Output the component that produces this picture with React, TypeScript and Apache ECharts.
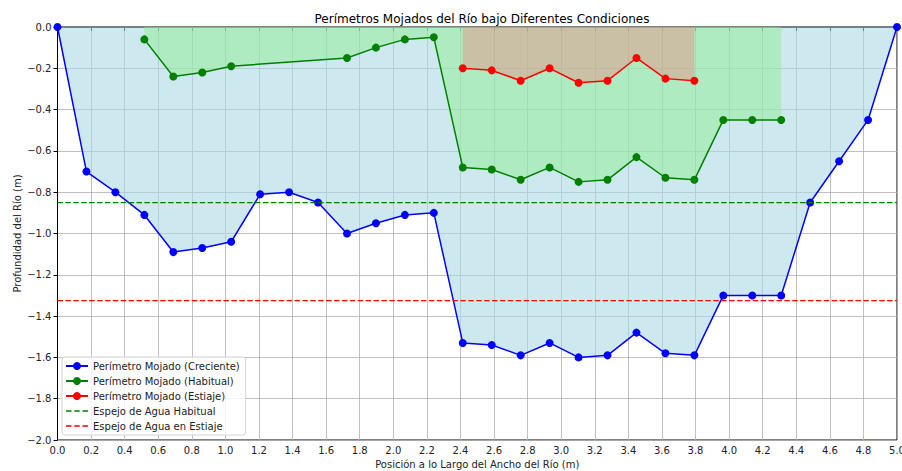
import React, { useEffect, useRef } from "react";
import * as echarts from "echarts";

const xPositions: number[] = Array.from({ length: 30 }, (_, i) => (i * 5) / 29);

const creciente: number[] = [
  0, -0.7, -0.8, -0.91, -1.09, -1.07, -1.04, -0.81, -0.8, -0.85,
  -1.0, -0.95, -0.91, -0.9, -1.53, -1.54, -1.59, -1.53, -1.6, -1.59,
  -1.48, -1.58, -1.59, -1.3, -1.3, -1.3, -0.85, -0.65, -0.45, 0,
];

const habitualIdx: number[] = [3, 4, 5, 6, 10, 11, 12, 13, 14, 15, 16, 17, 18, 19, 20, 21, 22, 23, 24, 25];
const habitual: number[] = [
  -0.06, -0.24, -0.22, -0.19, -0.15, -0.1, -0.06, -0.05, -0.68, -0.69,
  -0.74, -0.68, -0.75, -0.74, -0.63, -0.73, -0.74, -0.45, -0.45, -0.45,
];

const estiajeIdx: number[] = [14, 15, 16, 17, 18, 19, 20, 21, 22];
const estiaje: number[] = [-0.2, -0.21, -0.26, -0.2, -0.27, -0.26, -0.15, -0.25, -0.26];

const espejoHabitual = -0.85;
const espejoEstiaje = -1.325;

const FONT = "DejaVu Sans";

const DASH_ICON = "path://M0,0L5.5,0L5.5,1.5L0,1.5ZM8.2,0L13.7,0L13.7,1.5L8.2,1.5ZM16.4,0L21.9,0L21.9,1.5L16.4,1.5Z";

export default function App() {
  const ref = useRef<HTMLDivElement>(null);
  useEffect(() => {
    if (!ref.current) return;
    const chart = echarts.init(ref.current, undefined, { renderer: "svg" });
    const fmt = (v: number) => {
      const r = Math.round(v * 10) / 10;
      if (r === 0) return "0.0";
      return (r < 0 ? "\u2212" : "") + Math.abs(r).toFixed(1);
    };
    const blueData = creciente.map((y, i) => [xPositions[i], y]);
    const greenData = habitual.map((y, k) => [xPositions[habitualIdx[k]], y]);
    const redData = estiaje.map((y, k) => [xPositions[estiajeIdx[k]], y]);
    chart.setOption({
      animation: false,
      textStyle: { fontFamily: FONT },
      title: {
        text: "Perímetros Mojados del Río bajo Diferentes Condiciones",
        left: 477,
        textAlign: "center",
        top: 8,
        textStyle: { fontSize: 12, fontWeight: "normal", color: "#000", fontFamily: FONT },
      },
      grid: {
        left: 57.5,
        right: 5,
        top: 27,
        bottom: 31,
        outerBoundsMode: "none",
        containLabel: false,
        show: true,
        borderColor: "#000",
        borderWidth: 1,
        backgroundColor: "transparent",
      },
      legend: {
        orient: "vertical",
        left: 62,
        top: 357,
        itemWidth: 22,
        itemHeight: 10,
        itemGap: 5,
        padding: [4, 6, 4, 3],
        borderColor: "#d5d5d5",
        borderWidth: 1,
        borderRadius: 3,
        backgroundColor: "rgba(255,255,255,0.8)",
        textStyle: { fontSize: 10, color: "#222", fontFamily: FONT },
        data: [
          { name: "Perímetro Mojado (Creciente)" },
          { name: "Perímetro Mojado (Habitual)" },
          { name: "Perímetro Mojado (Estiaje)" },
          { name: "Espejo de Agua Habitual", icon: DASH_ICON, itemStyle: { color: "#008000" } },
          { name: "Espejo de Agua en Estiaje", icon: DASH_ICON, itemStyle: { color: "#ff0000" } },
        ],
      },
      xAxis: {
        type: "value",
        min: 0,
        max: 5,
        interval: 0.2,
        name: "Posición a lo Largo del Ancho del Río (m)",
        nameLocation: "middle",
        nameGap: 19,
        nameMoveOverlap: false,
        nameTextStyle: { fontSize: 10, color: "#222", fontFamily: FONT },
        axisLine: { show: true, lineStyle: { color: "#000", width: 1 } },
        axisTick: { show: true, length: 4, lineStyle: { color: "#000" } },
        axisLabel: { fontSize: 10, color: "#222", margin: 5, formatter: fmt, fontFamily: FONT },
        splitLine: { show: true, lineStyle: { color: "#b0b0b0", width: 0.8 } },
      },
      yAxis: {
        type: "value",
        min: -2,
        max: 0,
        interval: 0.2,
        name: "Profundidad del Río (m)",
        nameLocation: "middle",
        nameGap: 35,
        nameMoveOverlap: false,
        nameTextStyle: { fontSize: 10, color: "#222", fontFamily: FONT },
        axisLine: { show: true, lineStyle: { color: "#000", width: 1 } },
        axisTick: { show: true, length: 4, lineStyle: { color: "#000" } },
        axisLabel: { fontSize: 10, color: "#222", margin: 6, formatter: fmt, fontFamily: FONT },
        splitLine: { show: true, lineStyle: { color: "#b0b0b0", width: 0.8 } },
      },
      series: [
        {
          name: "Perímetro Mojado (Creciente)",
          type: "line",
          data: blueData,
          symbol: "circle",
          symbolSize: 8,
          itemStyle: { color: "#0000ff" },
          lineStyle: { color: "#0000ff", width: 1.5 },
          areaStyle: { color: "rgba(173,216,230,0.6)", origin: "end", opacity: 1 },
          z: 2,
        },
        {
          name: "Perímetro Mojado (Habitual)",
          type: "line",
          data: greenData,
          symbol: "circle",
          symbolSize: 8,
          itemStyle: { color: "#008000" },
          lineStyle: { color: "#008000", width: 1.5 },
          areaStyle: { color: "rgba(144,238,144,0.5)", origin: "end", opacity: 1 },
          z: 3,
        },
        {
          name: "Perímetro Mojado (Estiaje)",
          type: "line",
          data: redData,
          symbol: "circle",
          symbolSize: 8,
          itemStyle: { color: "#ff0000" },
          lineStyle: { color: "#ff0000", width: 1.5 },
          areaStyle: { color: "rgba(240,128,128,0.4)", origin: "end", opacity: 1 },
          z: 4,
        },
        {
          name: "Espejo de Agua Habitual",
          type: "line",
          data: [[0, espejoHabitual], [5, espejoHabitual]],
          symbol: "none",
          itemStyle: { color: "#008000" },
          lineStyle: { color: "#008000", width: 1.3, type: [5.5, 2.4] },
          z: 5,
        },
        {
          name: "Espejo de Agua en Estiaje",
          type: "line",
          data: [[0, espejoEstiaje], [5, espejoEstiaje]],
          symbol: "none",
          itemStyle: { color: "#ff0000" },
          lineStyle: { color: "#ff0000", width: 1.3, type: [5.5, 2.4] },
          z: 5,
        },
      ],
    });
    return () => chart.dispose();
  }, []);
  return <div ref={ref} style={{ width: 902, height: 471, position: "absolute", left: 0, top: 0 }} />;
}
